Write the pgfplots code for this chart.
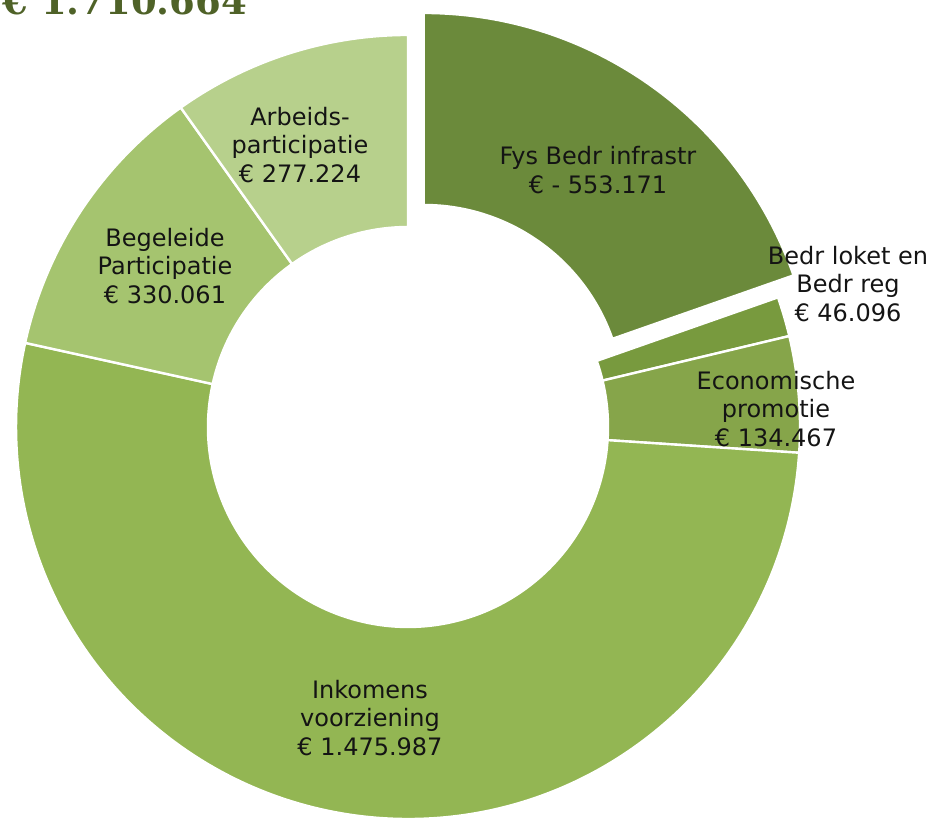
\documentclass[border=0pt]{standalone}
\usepackage{pgfplots}
\pgfplotsset{compat=1.18}
\usepackage{pgfplotstable}
\usepackage{fontspec}
\setmainfont{DejaVu Sans}
\newfontfamily\titlefont{DejaVu Serif}
\definecolor{c0}{HTML}{6B8A3B}
\definecolor{c1}{HTML}{789A3E}
\definecolor{c2}{HTML}{86A54A}
\definecolor{c3}{HTML}{93B653}
\definecolor{c4}{HTML}{A5C46F}
\definecolor{c5}{HTML}{B7D08C}
\definecolor{titlecol}{HTML}{4F6228}
\pgfplotstableread{
name value explode
Fys 553171 27
Loket 46096 0
Econ 134467 0
Ink 1475987 0
Beg 330061 0
Arb 277224 0
}\slices
\newcommand\cx{408}
\newcommand\cy{392}
\newcommand\Ro{392}
\newcommand\Ri{200}
\newcommand\G[2]{\csname #1#2\endcsname}
\begin{document}%
\begin{tikzpicture}
\xdef\total{0}%
\foreach \i in {0,...,5}{\pgfplotstablegetelem{\i}{value}\of\slices \xdef\total{\fpeval{\total+\pgfplotsretval}}}%
\xdef\cum{0}%
\foreach \i in {0,...,5}{%
 \pgfplotstablegetelem{\i}{value}\of\slices \let\vv\pgfplotsretval
 \pgfplotstablegetelem{\i}{explode}\of\slices \let\dd\pgfplotsretval
 \xdef\myS{\fpeval{round(90-360*\cum/\total,4)}}%
 \xdef\cum{\fpeval{\cum+\vv}}%
 \xdef\myE{\fpeval{round(90-360*\cum/\total,4)}}%
 \xdef\myM{\fpeval{(\myS+\myE)/2}}%
 \xdef\ox{\fpeval{\cx+\dd*cosd(\myM)}}%
 \xdef\oy{\fpeval{\cy+\dd*sind(\myM)}}%
 \expandafter\xdef\csname sa\i\endcsname{\myS}%
 \expandafter\xdef\csname ea\i\endcsname{\myE}%
 \expandafter\xdef\csname pax\i\endcsname{\fpeval{round(\ox+\Ro*cosd(\myS),3)}}%
 \expandafter\xdef\csname pay\i\endcsname{\fpeval{round(\oy+\Ro*sind(\myS),3)}}%
 \expandafter\xdef\csname pbx\i\endcsname{\fpeval{round(\ox+\Ri*cosd(\myE),3)}}%
 \expandafter\xdef\csname pby\i\endcsname{\fpeval{round(\oy+\Ri*sind(\myE),3)}}%
}%
\useasboundingbox (0,0) rectangle (465.5pt,409.5pt);
\clip (0,0) rectangle (465.5pt,409.5pt);
\begin{axis}[x=0.5pt, y=0.5pt, xmin=0, xmax=931, ymin=0, ymax=819,
  hide axis, clip=false, anchor=origin, at={(0,0)}, overlay]
\pgfplotsinvokeforeach{0,...,5}{
  \fill[fill=c#1, draw=white, line width=1.2pt, line join=round]
    (axis cs:\G{pax}{#1},\G{pay}{#1})
    arc[start angle=\G{sa}{#1}, end angle=\G{ea}{#1}, radius=\Ro]
    -- (axis cs:\G{pbx}{#1},\G{pby}{#1})
    arc[start angle=\G{ea}{#1}, end angle=\G{sa}{#1}, radius=\Ri]
    -- cycle;
}
\node[anchor=base west, font=\titlefont\bfseries\fontsize{18.5}{20}\selectfont, text=titlecol, inner sep=0pt]
  at (axis cs:2,804) {€ 1.710.664};
\tikzset{lbl/.style={font=\fontsize{12}{14.4}\selectfont, align=center, text=black!92, inner sep=0pt}}
\node[lbl] at (axis cs:300,674) {Arbeids-\\participatie\\€ 277.224};
\node[lbl] at (axis cs:598,649) {Fys Bedr infrastr\\€ - 553.171};
\node[lbl] at (axis cs:848,535) {Bedr loket en\\Bedr reg\\€ 46.096};
\node[lbl] at (axis cs:776,410) {Economische\\promotie\\€ 134.467};
\node[lbl] at (axis cs:165,553) {Begeleide\\Participatie\\€ 330.061};
\node[lbl] at (axis cs:370,101) {Inkomens\\voorziening\\€ 1.475.987};
\end{axis}
\end{tikzpicture}%
\end{document}
